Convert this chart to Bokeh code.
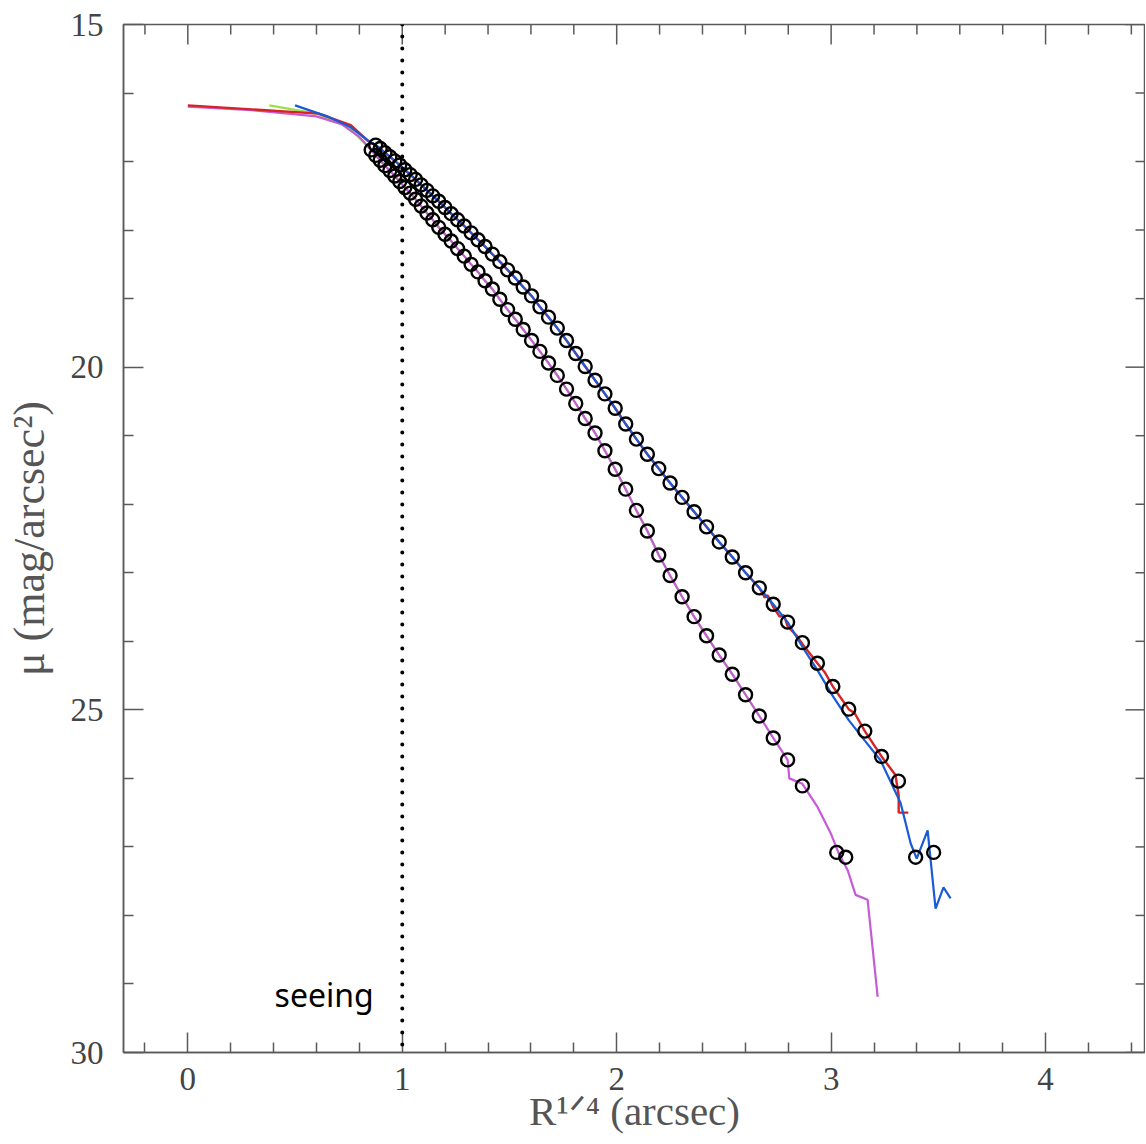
from bokeh.plotting import figure
from bokeh.models import Range1d, Label, Span, FixedTicker
from bokeh.embed import file_html
from bokeh.resources import INLINE

# ---------------- data ----------------
# upper profile: open circles (R^1/4 in arcsec, mu in mag/arcsec^2)
upper_x = [0.876, 0.897, 0.919, 0.942, 0.965, 0.988, 1.012, 1.037, 1.062, 1.088,
           1.115, 1.142, 1.170, 1.199, 1.228, 1.258, 1.289, 1.321, 1.353, 1.386,
           1.420, 1.455, 1.491, 1.527, 1.564, 1.603, 1.642, 1.682, 1.723, 1.766,
           1.809, 1.853, 1.899, 1.945, 1.993, 2.042, 2.092, 2.143, 2.196, 2.249,
           2.305, 2.361, 2.419, 2.478, 2.539, 2.601, 2.665, 2.730, 2.797, 2.866,
           2.936, 3.008, 3.082, 3.157, 3.235, 3.314, 3.394, 3.478]
upper_y = [16.76, 16.81, 16.87, 16.93, 16.99, 17.05, 17.12, 17.19, 17.26, 17.34,
           17.42, 17.50, 17.58, 17.67, 17.76, 17.85, 17.94, 18.04, 18.14, 18.24,
           18.35, 18.46, 18.58, 18.70, 18.83, 18.96, 19.12, 19.27, 19.43, 19.61,
           19.80, 19.99, 20.19, 20.39, 20.60, 20.83, 21.05, 21.27, 21.48, 21.69,
           21.90, 22.11, 22.33, 22.55, 22.77, 23.00, 23.22, 23.46, 23.72, 24.02,
           24.32, 24.66, 24.99, 25.31, 25.68, 26.04, 27.15, 27.08]

# lower profile: open circles
lower_x = [0.855, 0.876, 0.897, 0.919, 0.942, 0.965, 0.988, 1.012, 1.037, 1.062,
           1.088, 1.115, 1.142, 1.170, 1.199, 1.228, 1.258, 1.289, 1.321, 1.353,
           1.386, 1.420, 1.455, 1.491, 1.527, 1.564, 1.603, 1.642, 1.682, 1.723,
           1.766, 1.809, 1.853, 1.899, 1.945, 1.993, 2.042, 2.092, 2.143, 2.196,
           2.249, 2.305, 2.361, 2.419, 2.478, 2.539, 2.601, 2.665, 2.730, 2.797,
           2.866, 3.026, 3.068]
lower_y = [16.83, 16.91, 16.98, 17.06, 17.13, 17.21, 17.29, 17.38, 17.46, 17.55,
           17.65, 17.75, 17.85, 17.96, 18.06, 18.16, 18.27, 18.38, 18.50, 18.61,
           18.74, 18.86, 19.01, 19.16, 19.30, 19.45, 19.61, 19.77, 19.94, 20.12,
           20.32, 20.53, 20.75, 20.96, 21.22, 21.49, 21.78, 22.09, 22.39, 22.74,
           23.04, 23.35, 23.64, 23.92, 24.20, 24.48, 24.78, 25.09, 25.41, 25.73,
           26.11, 27.08, 27.15]

# profile lines: inner parts and outer tails that leave the circles
red_head_x = [0.00, 0.61, 0.76, 0.84]
red_head_y = [16.18, 16.30, 16.47, 16.70]
red_tail_x = [2.665, 2.690, 2.705, 2.730, 2.760, 2.780, 2.797, 2.840, 2.866, 2.936,
              2.970, 3.008, 3.082, 3.110, 3.157, 3.235, 3.300, 3.315, 3.315, 3.360]
red_tail_y = [23.22, 23.36, 23.33, 23.50, 23.64, 23.62, 23.78, 23.92, 24.04, 24.32,
              24.45, 24.66, 24.99, 25.05, 25.31, 25.68, 25.95, 26.25, 26.50, 26.50]

blue_head_x = [0.50, 0.65, 0.76, 0.84]
blue_head_y = [16.18, 16.34, 16.50, 16.69]
blue_tail_x = [2.866, 2.936, 3.008, 3.082, 3.157, 3.231, 3.324, 3.348, 3.371, 3.399,
               3.450, 3.487, 3.524, 3.557]
blue_tail_y = [24.08, 24.42, 24.80, 25.15, 25.45, 25.74, 26.36, 26.66, 26.95, 27.17,
               26.76, 27.90, 27.59, 27.75]

magenta_head_x = [0.00, 0.30, 0.60, 0.72, 0.80]
magenta_head_y = [16.20, 16.25, 16.34, 16.46, 16.64]
magenta_tail_x = [2.805, 2.866, 2.937, 2.998, 3.035, 3.077, 3.114, 3.170, 3.217]
magenta_tail_y = [26.00, 26.08, 26.42, 26.80, 27.09, 27.34, 27.70, 27.77, 29.19]

green_head_x = [0.38, 0.60, 0.75, 0.84]
green_head_y = [16.18, 16.30, 16.50, 16.78]

seeing_x = 1.0
seeing_text = "seeing"

x_major = [0, 1, 2, 3, 4]
x_minor = [-0.2, 0.2, 0.4, 0.6, 0.8, 1.2, 1.4, 1.6, 1.8, 2.2, 2.4, 2.6, 2.8,
           3.2, 3.4, 3.6, 3.8, 4.2, 4.4]
y_major = [15, 20, 25, 30]
y_minor = [16, 17, 18, 19, 21, 22, 23, 24, 26, 27, 28, 29]

x_label = "R¹ᐟ⁴ (arcsec)"
y_label = "μ (mag/arcsec²)"

# ---------------- assemble lines ----------------
n_red = upper_x.index(2.601) + 1
red_x = red_head_x + upper_x[:n_red] + red_tail_x
red_y = red_head_y + upper_y[:n_red] + red_tail_y
n_blue = upper_x.index(2.797) + 1
blue_x = blue_head_x + upper_x[:n_blue] + blue_tail_x
blue_y = blue_head_y + upper_y[:n_blue] + blue_tail_y
n_mag = lower_x.index(2.797) + 1
magenta_x = magenta_head_x + lower_x[:n_mag] + magenta_tail_x
magenta_y = magenta_head_y + lower_y[:n_mag] + magenta_tail_y
n_green = lower_x.index(2.665) + 1
green_x = green_head_x + lower_x[:n_green]
green_y = green_head_y + lower_y[:n_green]

# ---------------- figure ----------------
AX = "#5a5a5a"
TXT = "#555555"
FONT = "Liberation Serif"
FW, FH = 1022, 1028
X0, X1 = -0.3, 4.466
Y0, Y1 = 30, 15

p = figure(frame_width=FW, frame_height=FH,
           x_range=Range1d(X0, X1), y_range=Range1d(Y0, Y1),
           output_backend="svg", toolbar_location=None,
           min_border_left=123, min_border_right=0, min_border_top=24, min_border_bottom=92,
           background_fill_color="white", border_fill_color="white")
p.xgrid.grid_line_color = None
p.ygrid.grid_line_color = None
p.outline_line_color = AX
p.outline_line_width = 1.5

def style_axis(ax, ticks, minor):
    ax.ticker = FixedTicker(ticks=ticks, minor_ticks=minor)
    ax.axis_line_color = AX
    ax.axis_line_width = 1.5
    ax.major_tick_line_color = AX
    ax.minor_tick_line_color = AX
    ax.major_tick_line_width = 1.5
    ax.minor_tick_line_width = 1.5
    ax.major_tick_in = 20
    ax.major_tick_out = 0
    ax.minor_tick_in = 10
    ax.minor_tick_out = 0
    ax.major_label_text_font = FONT
    ax.major_label_text_font_size = "33px"
    ax.major_label_text_color = "#444444"
    ax.axis_label_text_font = FONT
    ax.axis_label_text_font_style = "normal"
    ax.axis_label_text_color = TXT

xa = p.xaxis[0]
ya = p.yaxis[0]
style_axis(xa, x_major, x_minor)
style_axis(ya, y_major, y_minor)
xa.major_label_standoff = 15
xa.axis_label = x_label
xa.axis_label_text_font_size = "41px"
xa.axis_label_standoff = -5
ya.major_label_standoff = 20
ya.axis_label = y_label
ya.axis_label_text_font_size = "44px"
ya.axis_label_standoff = 14

# mirrored ticks on the top and right edges of the frame
px_y = (Y0 - Y1) / FH
px_x = (X1 - X0) / FW
p.segment(x0=x_major, y0=[Y1] * len(x_major), x1=x_major, y1=[Y1 + 20 * px_y] * len(x_major),
          line_color=AX, line_width=1.5)
p.segment(x0=x_minor, y0=[Y1] * len(x_minor), x1=x_minor, y1=[Y1 + 10 * px_y] * len(x_minor),
          line_color=AX, line_width=1.5)
p.segment(x0=[X1] * len(y_major), y0=y_major, x1=[X1 - 20 * px_x] * len(y_major), y1=y_major,
          line_color=AX, line_width=1.5)
p.segment(x0=[X1] * len(y_minor), y0=y_minor, x1=[X1 - 10 * px_x] * len(y_minor), y1=y_minor,
          line_color=AX, line_width=1.5)

# lines
p.line(green_x, green_y, line_color="#9be04a", line_width=2.2)
p.line(magenta_x, magenta_y, line_color="#c65ad8", line_width=2.2)
p.line(red_x, red_y, line_color="#d42424", line_width=2.4)
p.line(blue_x, blue_y, line_color="#1b5ad6", line_width=2.2)

# circles
p.scatter(upper_x, upper_y, marker="circle", size=13, fill_color=None,
          line_color="black", line_width=2.4)
p.scatter(lower_x, lower_y, marker="circle", size=13, fill_color=None,
          line_color="black", line_width=2.4)

# seeing line
p.add_layout(Span(location=seeing_x, dimension="height", line_color="black",
                  line_width=4, line_dash="0 12", line_cap="round"))
p.add_layout(Label(x=0.867, y=29.15, text=seeing_text, text_font="Noto Sans",
                   text_font_size="32px", text_color="black", text_align="right",
                   text_baseline="middle"))

open("out.html", "w").write(file_html(p, INLINE))
